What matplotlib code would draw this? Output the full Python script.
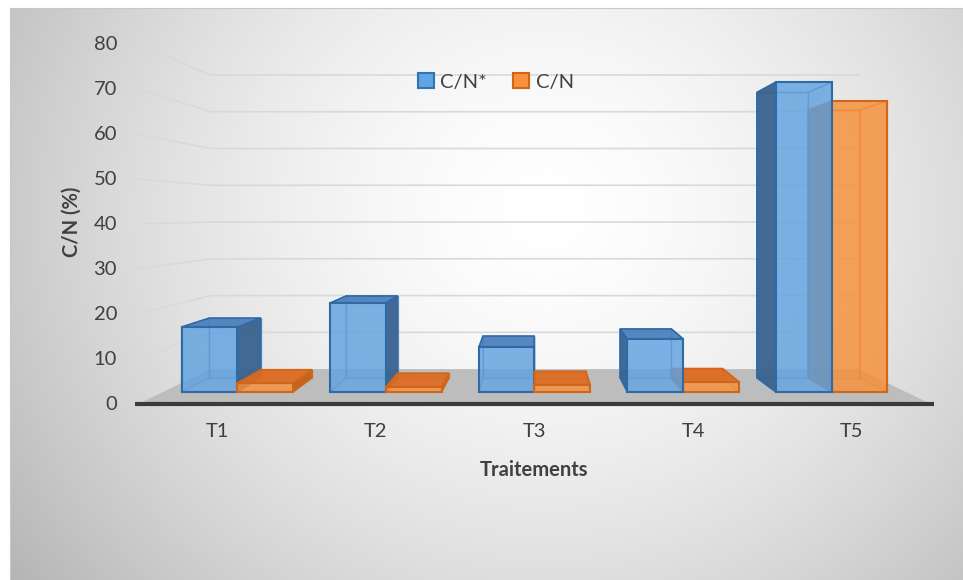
import numpy as np
import matplotlib.pyplot as plt
from matplotlib.colors import to_rgba
from matplotlib.patches import Polygon, Patch

plt.rcParams['font.family'] = ['Lato', 'DejaVu Sans']

# data
categories = ["T1", "T2", "T3", "T4", "T5"]
cn_star = [15.4, 21.1, 10.7, 12.6, 73.5]
cn = [2.1, 1.2, 1.7, 2.4, 69.0]
yticks = [0, 10, 20, 30, 40, 50, 60, 70, 80]
series_names = ["C/N*", "C/N"]

# fake 3D: perspective towards a vanishing point (data units)
XV, YV = 2.5, 42.4
F_WALL = 0.817          # back wall
F_FRONT, F_BACK = 0.937, 0.863   # bar front / back planes
W = 0.375
TXT = '#404040'

blue = dict(front='#62a4e2', top='#4a80bc', side='#36608e', edge='#2e6aa6')
orange = dict(front='#f8913a', top='#de6b1f', side='#c45d16', edge='#d0661a')


def proj(x, y, f):
    return XV + (x - XV) * f, YV + (y - YV) * f


fig = plt.figure(figsize=(9.63, 5.8), dpi=100)

# background gradient
bg = fig.add_axes([10 / 963, 0, 953 / 963, 572 / 580])
v, u = np.mgrid[0:1:300j, 0:1:500j]
px = 10 + 953 * u
py = 8 + 572 * v
r = np.sqrt(((px - 545) / 560) ** 2 + ((py - 210) / 520) ** 2)
g = 1 - 0.22 * np.clip(r, 0, 1.2) ** 1.6
bg.imshow(np.dstack([g, g, g]), aspect='auto', extent=(0, 1, 0, 1))
bg.set_xticks([])
bg.set_yticks([])
for s in bg.spines.values():
    s.set_color('#c8c8c8')
    s.set_linewidth(0.8)
bg.spines['bottom'].set_visible(False)
bg.spines['right'].set_visible(False)

ax = fig.add_axes([0, 0, 1, 1])
ax.patch.set_alpha(0)
ax.set_xlim(-0.870, 5.202)
ax.set_ylim(-39.11, 89.78)
ax.axis('off')

# wall gridlines
for t in yticks[1:]:
    p0 = proj(0, t, 1.0)
    p1 = proj(0, t, F_WALL)
    p2 = proj(len(categories), t, F_WALL)
    ax.plot([p0[0], p1[0], p2[0]], [p0[1], p1[1], p2[1]], color='#d9d9d9', lw=1.2, zorder=1)

# floor
n = len(categories)
floor = [proj(0, 0, 1), proj(n, 0, 1), proj(n, 0, F_WALL), proj(0, 0, F_WALL)]
ax.add_patch(Polygon(floor, closed=True, fc='#bdbdbd', ec='none', zorder=2))
ax.plot([-0.02, n + 0.02], [0, 0], color='#3a3a3a', lw=3, zorder=3, solid_capstyle='butt')


def draw_box(x0, x1, val, c, z):
    P = proj
    FF, FB = F_FRONT, F_BACK
    back = [P(x0, 0, FB), P(x1, 0, FB), P(x1, val, FB), P(x0, val, FB)]
    left = [P(x0, 0, FB), P(x0, 0, FF), P(x0, val, FF), P(x0, val, FB)]
    right = [P(x1, 0, FB), P(x1, 0, FF), P(x1, val, FF), P(x1, val, FB)]
    top = [P(x0, val, FB), P(x1, val, FB), P(x1, val, FF), P(x0, val, FF)]
    front = [P(x0, 0, FF), P(x1, 0, FF), P(x1, val, FF), P(x0, val, FF)]

    hidden = [(back, c['side'])]
    visible = []
    if x0 > XV:
        visible.append((left, c['side']))
    else:
        hidden.append((left, c['side']))
    if x1 < XV:
        visible.append((right, c['side']))
    else:
        hidden.append((right, c['side']))
    if val < YV:
        visible.append((top, c['top']))
    else:
        hidden.append((top, c['top']))

    for pts, col in hidden:
        ax.add_patch(Polygon(pts, closed=True, fc=to_rgba(col, 0.12), ec=to_rgba(c['edge'], 0.55),
                             lw=1, zorder=z))
    for pts, col in visible:
        ax.add_patch(Polygon(pts, closed=True, fc=to_rgba(col, 0.92), ec=c['edge'], lw=1.2,
                             zorder=z + 0.1))
    ax.add_patch(Polygon(front, closed=True, fc=to_rgba(c['front'], 0.8), ec=c['edge'], lw=1.5,
                         zorder=z + 0.2))


boxes = []
for i in range(n):
    boxes.append((i + 0.5 - W, i + 0.5, cn_star[i], blue))
    boxes.append((i + 0.5, i + 0.5 + W, cn[i], orange))
boxes.sort(key=lambda b: -abs((b[0] + b[1]) / 2 - XV))
for k, (x0, x1, val, c) in enumerate(boxes):
    draw_box(x0, x1, val, c, 4 + k)

# axis texts
for t in yticks:
    ax.text(-0.132, t, str(t), ha='right', va='center', fontsize=14.5, color=TXT)
for i, lab in enumerate(categories):
    ax.text(i + 0.5, -6.2, lab, ha='center', va='center', fontsize=14.5, color=TXT)
ax.text(2.5, -14.7, "Traitements", ha='center', va='center', fontsize=14.5,
        fontweight='bold', color=TXT)
ax.text(-0.416, 40.4, "C/N (%)", ha='center', va='center', rotation=90, fontsize=14.5,
        fontweight='bold', color=TXT)

handles = [Patch(fc=blue['front'], ec='#2e75b6', lw=1.5),
           Patch(fc=orange['front'], ec='#d0661a', lw=1.5)]
leg = ax.legend(handles, series_names, loc='center', bbox_to_anchor=(0.515, 0.859), ncol=2,
                frameon=False, fontsize=14.5, handlelength=0.8, handleheight=0.8,
                handletextpad=0.3, columnspacing=1.3)
for t in leg.get_texts():
    t.set_color(TXT)

fig.savefig('out.png', dpi=100)
